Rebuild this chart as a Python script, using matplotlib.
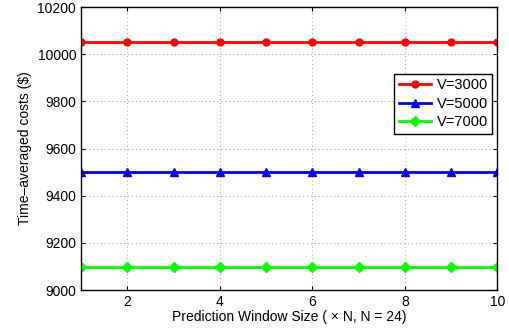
import matplotlib
matplotlib.use('Agg')
import matplotlib.pyplot as plt

window = [1, 2, 3, 4, 5, 6, 7, 8, 9, 10]
cost_v3000 = [10050] * 10
cost_v5000 = [9500] * 10
cost_v7000 = [9100] * 10
labels = ['V=3000', 'V=5000', 'V=7000']

plt.rcParams['font.family'] = ['Liberation Sans', 'DejaVu Sans']

fig = plt.figure(figsize=(5.1, 3.35), dpi=100)
ax = fig.add_axes([0.159, 0.134, 0.816, 0.845])

ax.plot(window, cost_v3000, color='#ff0000', lw=2, marker='o', ms=5, label=labels[0])
ax.plot(window, cost_v5000, color='#0000ff', lw=2, marker='^', ms=6, label=labels[1])
ax.plot(window, cost_v7000, color='#00ff00', lw=2, marker='D', ms=5, label=labels[2])

ax.set_xlim(1, 10)
ax.set_ylim(9000, 10200)
ax.set_xticks([2, 4, 6, 8, 10])
ax.set_yticks(range(9000, 10201, 200))
ax.grid(True, color='#999999', linestyle=(0, (1, 3)), linewidth=0.7)
ax.tick_params(direction='in', top=True, right=True, labelsize=10, length=3)
for s in ax.spines.values():
    s.set_linewidth(1)

ax.set_xlabel('Prediction Window Size ( × N, N = 24)', fontsize=10, labelpad=1)
ax.set_ylabel('Time\u2013averaged costs ($)', fontsize=10, labelpad=4)

leg = ax.legend(loc='upper right', bbox_to_anchor=(0.988, 0.763), borderaxespad=0,
                fontsize=10.5, fancybox=False, edgecolor='black', framealpha=1,
                handlelength=2.2, borderpad=0.3, labelspacing=0.3, handletextpad=0.4)
leg.get_frame().set_linewidth(1)

fig.savefig('out.png', dpi=100)
